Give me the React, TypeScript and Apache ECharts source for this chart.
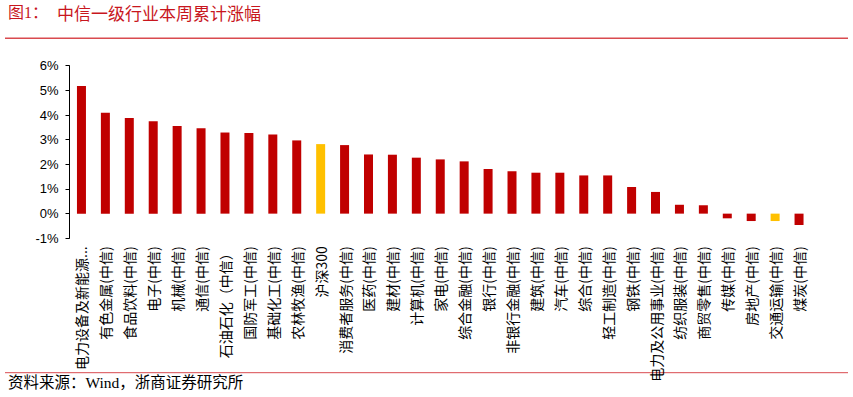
import React, { useEffect, useRef } from "react";
import * as echarts from "echarts";

const categories = [
  "电力设备及新能源...",
  "有色金属(中信)",
  "食品饮料(中信)",
  "电子(中信)",
  "机械(中信)",
  "通信(中信)",
  "石油石化（中信）",
  "国防军工(中信)",
  "基础化工(中信)",
  "农林牧渔(中信)",
  "沪深300",
  "消费者服务(中信)",
  "医药(中信)",
  "建材(中信)",
  "计算机(中信)",
  "家电(中信)",
  "综合金融(中信)",
  "银行(中信)",
  "非银行金融(中信)",
  "建筑(中信)",
  "汽车(中信)",
  "综合(中信)",
  "轻工制造(中信)",
  "钢铁(中信)",
  "电力及公用事业(中信)",
  "纺织服装(中信)",
  "商贸零售(中信)",
  "传媒(中信)",
  "房地产(中信)",
  "交通运输(中信)",
  "煤炭(中信)",
];

const weeklyChange = [
  5.18, 4.09, 3.88, 3.75, 3.55, 3.46, 3.29, 3.27, 3.21, 2.97, 2.82, 2.78, 2.4,
  2.39, 2.27, 2.2, 2.12, 1.81, 1.72, 1.66, 1.66, 1.55, 1.55, 1.08, 0.88, 0.36,
  0.34, -0.19, -0.3, -0.3, -0.46,
];

const highlighted = ["沪深300", "交通运输(中信)"];

const yTicks = [-1, 0, 1, 2, 3, 4, 5, 6];

const titleLabel = "图1：";
const titleText = "中信一级行业本周累计涨幅";
const sourceText = "资料来源：Wind，浙商证券研究所";

const RED = "#C00000";
const YELLOW = "#FFC000";
const TITLE_RED = "#C8161D";

export default function App() {
  const ref = useRef<HTMLDivElement>(null);

  useEffect(() => {
    if (!ref.current) return;
    const chart = echarts.init(ref.current, undefined, { renderer: "svg" });
    const cjk = '"Noto Sans CJK SC", "Liberation Serif", serif';
    chart.setOption({
      animation: false,
      backgroundColor: "#ffffff",
      grid: {
        left: 69.5,
        right: 42,
        top: 65.7,
        bottom: 158.7,
        containLabel: false,
        outerBoundsMode: "none",
      },
      xAxis: {
        type: "category",
        data: categories,
        axisLine: { show: true, onZero: true, lineStyle: { opacity: 0 } },
        axisTick: { show: false },
        axisLabel: {
          rotate: 90,
          interval: 0,
          margin: 8,
          fontSize: 14,
          color: "#000",
          fontFamily: cjk,
        },
      },
      yAxis: {
        type: "value",
        min: yTicks[0],
        max: yTicks[yTicks.length - 1],
        interval: 1,
        splitLine: { show: false },
        axisLine: { show: true, lineStyle: { color: "#000", width: 1 } },
        axisTick: { show: true, length: 4, lineStyle: { color: "#000" } },
        axisLabel: {
          formatter: (v: number) => `${v}%`,
          fontSize: 13,
          color: "#000",
          margin: 11,
          fontFamily: '"Liberation Sans", Arial, sans-serif',
        },
      },
      series: [
        {
          type: "bar",
          barWidth: 9,
          data: weeklyChange.map((v, i) => ({
            value: v,
            itemStyle: {
              color: highlighted.includes(categories[i]) ? YELLOW : RED,
            },
          })),
        },
      ],
      graphic: [
        {
          type: "text",
          left: 8,
          top: 4,
          style: {
            text: titleLabel,
            fontSize: 16,
            fill: TITLE_RED,
            fontFamily: '"Liberation Serif", "Noto Sans CJK SC", serif',
          },
        },
        {
          type: "text",
          left: 57,
          top: 4,
          style: {
            text: titleText,
            fontSize: 17,
            fill: TITLE_RED,
            fontFamily: cjk,
          },
        },
        {
          type: "line",
          shape: { x1: 5, y1: 38.3, x2: 848, y2: 38.3 },
          style: { stroke: "#D94A4F", lineWidth: 1.6 },
        },
        {
          type: "line",
          shape: { x1: 5, y1: 372.7, x2: 848, y2: 372.7 },
          style: { stroke: "#D94A4F", lineWidth: 1 },
        },
        {
          type: "text",
          left: 8,
          top: 375,
          style: {
            text: sourceText,
            fontSize: 15.5,
            fill: "#000",
            fontFamily: '"Liberation Serif", "Noto Sans CJK SC", serif',
          },
        },
      ],
    });
    return () => chart.dispose();
  }, []);

  return (
    <div
      ref={ref}
      style={{ position: "fixed", left: 0, top: 0, width: 853, height: 397 }}
    />
  );
}
